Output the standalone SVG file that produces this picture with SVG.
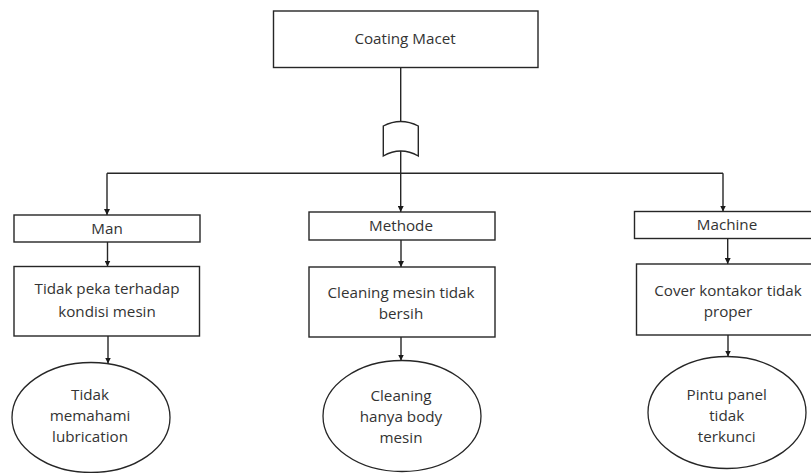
<svg xmlns="http://www.w3.org/2000/svg" width="811" height="473" viewBox="0 0 811 473">
  <style>
    .box { fill: #ffffff; stroke: #262626; stroke-width: 1.4; }
    .oval { fill: #ffffff; stroke: #262626; stroke-width: 1.3; }
    .lbl { font-family: "Open Sans", "Noto Sans", sans-serif; font-size: 15.2px; fill: #333333; text-anchor: middle; }
    .wire { fill: none; stroke: #262626; stroke-width: 1.4; }
    .arrow { fill: none; stroke: #262626; stroke-width: 1.4; marker-end: url(#head); }
  </style>
  <defs>
    <marker id="head" viewBox="0 0 10 10" refX="10" refY="5" markerWidth="6" markerHeight="6" markerUnits="userSpaceOnUse" orient="auto">
      <path d="M0,0 L10,5 L0,10 Z" fill="#1a1a1a"/>
    </marker>
  </defs>

  <rect width="811" height="473" fill="#ffffff"/>

  <!-- connectors -->
  <g id="connectors">
    <line class="wire" x1="400.7" y1="67.5" x2="400.7" y2="122"/>
    <line class="wire" x1="400.7" y1="151" x2="400.7" y2="173.3"/>
    <line class="wire" x1="107" y1="173.3" x2="723" y2="173.3"/>
    <line class="arrow" x1="107" y1="173.3" x2="107" y2="215"/>
    <line class="arrow" x1="400.7" y1="173.3" x2="400.7" y2="212"/>
    <line class="arrow" x1="723" y1="173.3" x2="723" y2="211.5"/>
    <line class="arrow" x1="107.5" y1="242" x2="107.5" y2="266.5"/>
    <line class="arrow" x1="401" y1="240" x2="401" y2="267"/>
    <line class="arrow" x1="727.7" y1="238.5" x2="727.7" y2="264"/>
    <line class="arrow" x1="108" y1="336" x2="108" y2="363.5"/>
    <line class="arrow" x1="401" y1="337" x2="401" y2="360.5"/>
    <line class="arrow" x1="728" y1="335" x2="728" y2="356.5"/>
  </g>

  <!-- top event -->
  <g id="top">
    <rect class="box" x="273.5" y="11" width="264.5" height="56.5"/>
    <text class="lbl" x="405" y="44">Coating Macet</text>
  </g>

  <!-- gate -->
  <g id="gate">
    <path class="box" d="M383.3,126 Q400.7,117 418.3,126 L418.3,156 Q400.7,146 383.3,156 Z"/>
  </g>

  <!-- Man branch -->
  <g id="man">
    <rect class="box" x="14" y="215" width="186" height="27"/>
    <text class="lbl" x="107" y="234">Man</text>
  </g>
  <g id="man-cause">
    <rect class="box" x="14" y="266.5" width="185.5" height="69.5"/>
    <text class="lbl" x="107" y="293.5">Tidak peka terhadap</text>
    <text class="lbl" x="107" y="316.5">kondisi mesin</text>
  </g>
  <g id="man-root">
    <ellipse class="oval" cx="91" cy="417.5" rx="79" ry="55"/>
    <text class="lbl" x="90" y="400">Tidak</text>
    <text class="lbl" x="90" y="421">memahami</text>
    <text class="lbl" x="90" y="442">lubrication</text>
  </g>

  <!-- Methode branch -->
  <g id="methode">
    <rect class="box" x="309" y="212" width="186" height="28"/>
    <text class="lbl" x="401" y="231">Methode</text>
  </g>
  <g id="methode-cause">
    <rect class="box" x="309" y="267" width="186" height="70"/>
    <text class="lbl" x="401" y="297.5">Cleaning mesin tidak</text>
    <text class="lbl" x="401" y="318.5">bersih</text>
  </g>
  <g id="methode-root">
    <ellipse class="oval" cx="402" cy="416" rx="79" ry="55.5"/>
    <text class="lbl" x="401" y="401">Cleaning</text>
    <text class="lbl" x="401" y="422">hanya body</text>
    <text class="lbl" x="401" y="443">mesin</text>
  </g>

  <!-- Machine branch -->
  <g id="machine">
    <rect class="box" x="634.5" y="211.5" width="190" height="27"/>
    <text class="lbl" x="727" y="230">Machine</text>
  </g>
  <g id="machine-cause">
    <rect class="box" x="636.5" y="264" width="190" height="71"/>
    <text class="lbl" x="728" y="296">Cover kontakor tidak</text>
    <text class="lbl" x="728" y="317">proper</text>
  </g>
  <g id="machine-root">
    <ellipse class="oval" cx="727" cy="412.5" rx="79" ry="56"/>
    <text class="lbl" x="726.7" y="400">Pintu panel</text>
    <text class="lbl" x="726.7" y="421">tidak</text>
    <text class="lbl" x="726.7" y="442">terkunci</text>
  </g>
</svg>
